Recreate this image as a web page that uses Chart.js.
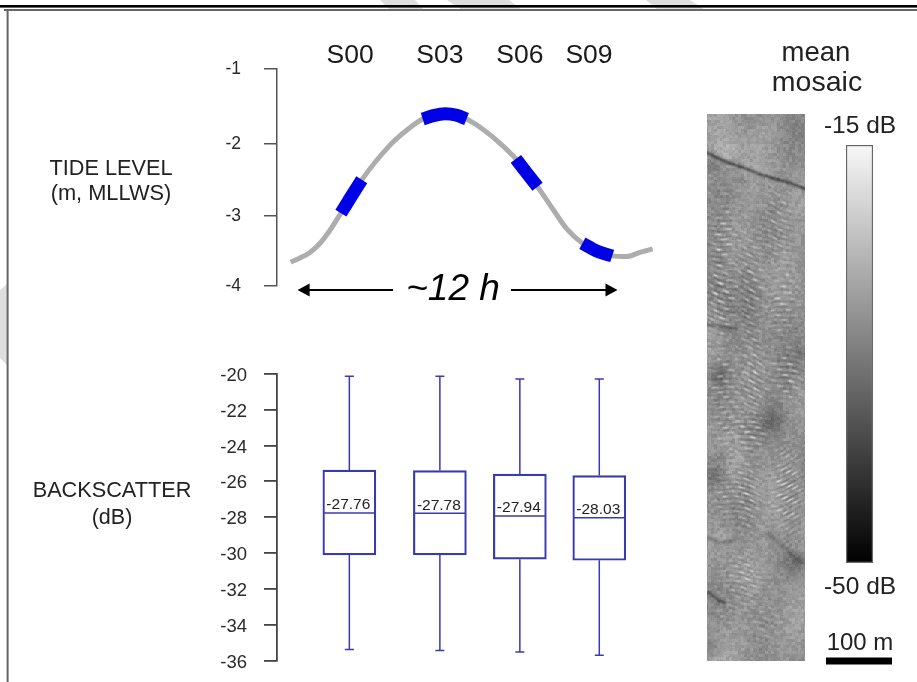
<!DOCTYPE html>
<html><head><meta charset="utf-8">
<style>
html,body{margin:0;padding:0;background:#fff;width:917px;height:682px;overflow:hidden}
canvas{position:absolute;left:0;top:0;display:block}
#tide,#back,#bar{filter:blur(0.45px)}
</style>
<script src="https://cdn.jsdelivr.net/npm/chart.js@4/dist/chart.umd.js"></script>
</head><body>
<canvas id="bg" width="917" height="682"></canvas>
<canvas id="tide" width="917" height="682"></canvas>
<canvas id="back" width="917" height="720"></canvas>
<canvas id="bar" width="917" height="682"></canvas>
<script>
// ---------- data ----------
const sessions = ['S00','S03','S06','S09'];
const sessionLabelHours = [1.9,5.3,8.33,10.95];
const tideTicks = [-1,-2,-3,-4];
const tideHours  = [-0.35,0,0.38,0.76,1.07,1.55,1.94,2.34,3.41,4.04,4.65,5.05,5.49,5.94,6.31,6.94,7.58,8.18,8.58,9.0,9.59,10.1,10.7,11.24,11.83,12.37,12.88,13.36];
const tideLevels = [-3.66,-3.60,-3.52,-3.39,-3.24,-2.96,-2.73,-2.50,-2.02,-1.82,-1.67,-1.625,-1.60,-1.62,-1.67,-1.81,-1.995,-2.21,-2.40,-2.595,-2.91,-3.18,-3.39,-3.50,-3.57,-3.58,-3.52,-3.47];
const sessionRanges = [[5,7],[10,14],[17,19],[22,24]];
const backTicks = [-20,-22,-24,-26,-28,-30,-32,-34,-36];
const boxHours = [1.87,5.30,8.33,11.34];
const boxHalfHours = 0.985;
const whiskerHigh = [-20.14,-20.14,-20.3,-20.3];
const boxTop      = [-25.38,-25.40,-25.60,-25.68];
const medians     = [-27.76,-27.78,-27.94,-28.03];
const boxBottom   = [-30.10,-30.10,-30.34,-30.40];
const whiskerLow  = [-35.37,-35.43,-35.52,-35.70];
const colorRange  = [-50,-15];

const FONT = '"Liberation Sans", Arial, sans-serif';
const BOX = '#3a3ab0';
const hourMin = -0.871, hourMax = 13.64;

// ---------- tide axis: tick spacing in the figure is slightly uneven ----------
const tideStops = [[-4,0],[-3,0.3226],[-2,0.6558],[-1,1]];
class TideScale extends Chart.LinearScale {
  getPixelForValue(v){
    if (v === null || v === undefined || isNaN(v)) return NaN;
    let f = 0;
    for (let i=0;i<tideStops.length-1;i++){
      const a=tideStops[i], b=tideStops[i+1];
      if (v<=b[0] || i===tideStops.length-2){ f=a[1]+(v-a[0])/(b[0]-a[0])*(b[1]-a[1]); break; }
    }
    return this.getPixelForDecimal(f);
  }
}
TideScale.id='tidescale';
TideScale.defaults=Chart.LinearScale.defaults;
Chart.register(TideScale);

// ---------- backdrop: frame, watermark, mosaic image ----------
const ripplePatches = [
 // cx, cy, rx, ry, amplitude, wavelength, slope
 [722,240,13,45,40,5.5,.22],[722,295,15,40,50,5.5,.25],[750,285,13,50,40,5.5,.30],[778,225,14,40,32,5.5,.25],[782,305,15,35,36,5.5,-.15],
 [724,385,15,36,36,5.2,.15],[752,378,14,36,42,5.2,.30],[787,372,13,26,48,5.2,.25],
 [750,432,15,22,48,5.2,.30],[725,428,13,20,34,5.2,.15],
 [745,497,14,32,48,5.2,.30],[787,490,14,40,50,5.2,-.35],[722,497,10,28,28,5.2,.15],
 [742,580,20,26,32,5.2,.10],[762,622,16,26,20,5.5,.05],[722,612,12,22,18,5.5,.1]];
const blotches = [
 // x, y, r, amplitude
 [727,150,13,26],[713,165,7,-30],[742,180,4,-16],[763,188,4,-14],[752,125,30,6],
 [718,374,10,-30],[773,420,13,-30],[720,457,8,-22],[716,475,10,-40],[725,535,11,20],
 [800,354,8,-22],[795,563,11,-32],[713,645,9,-16],[730,640,30,12],[780,640,30,8],[735,565,25,10]];
const scarps = [
 // width, amplitude, polyline
 [2.0,-65,[[707,152],[718,158],[730,163],[745,168],[763,175],[785,181],[804,188]]],
 [2.0,-34,[[707,324],[723,327],[735,329]]],
 [2.2,-30,[[707,537],[720,542],[733,540]]],
 [2.0,-42,[[708,592],[716,598],[724,603]]],
 [2.4,-22,[[767,533],[785,548],[803,563]]]];
function grain(a,b){const g=Math.sin(a*12.9898+b*78.233)*43758.5453;return g-Math.floor(g)-.5;}

function segDist(px,py,a,b){
  const dx=b[0]-a[0],dy=b[1]-a[1];
  let t=((px-a[0])*dx+(py-a[1])*dy)/(dx*dx+dy*dy); t=Math.max(0,Math.min(1,t));
  return Math.hypot(px-a[0]-t*dx,py-a[1]-t*dy);
}
(function(){
  const c=document.getElementById('bg').getContext('2d');
  c.fillStyle='#fff';c.fillRect(0,0,917,682);
  c.fillStyle='#dedede';
  [[[380,0],[415,0],[424,10],[390,10]],[[447,0],[509,0],[522,10],[462,10]],[[646,0],[690,0],[705,10],[658,10]],[[0,290],[8,283],[8,366],[0,358]]]
   .forEach(p=>{c.beginPath();p.forEach((q,i)=>i?c.lineTo(q[0],q[1]):c.moveTo(q[0],q[1]));c.closePath();c.fill();});
  c.fillStyle='#000';c.fillRect(0,5,917,2.6);
  c.fillStyle='#666';c.fillRect(4,9,913,2);c.fillRect(6.6,9,2,673);

  const x0=707,y0=114,w=98,h=547;
  const off=document.createElement('canvas');off.width=w;off.height=h;
  const oc=off.getContext('2d');const img=oc.createImageData(w,h);
  for(let j=0;j<h;j++)for(let i=0;i<w;i++){
    const x=x0+i,y=y0+j;
    let v=146;
    v+=6*Math.sin(x/9+y/31)+5*Math.sin(y/17-x/23)+5*Math.sin(x/31-y/47);
    v+=24*grain(Math.floor(x/3),Math.floor(y/3))+12*grain(x,y);
    for(const [cx,cy,rx,ry,amp,wl,sl] of ripplePatches){
      const e=((x-cx)/rx)**2+((y-cy)/ry)**2;
      if(e>3)continue;
      const wob=2.2*Math.sin(x/9+cy)+1.2*Math.sin(y/13);
      const crest=Math.sin(2*Math.PI*(y-sl*(x-cx)+wob)/wl);
      const row=Math.floor((y-sl*(x-cx)+wob)/wl);
      const brk=Math.max(0,Math.sin(x/2.6+row*4.1+cx));
      v+=amp*Math.exp(-e)*(crest>0?crest*brk*1.3:crest*.5);
    }
    for(const [bx,by,r,a] of blotches){
      const e=((x-bx)**2+(y-by)**2)/(r*r);
      if(e<6)v+=a*Math.exp(-e);
    }
    for(const [sw,a,pl] of scarps){
      let d=1e9;
      for(let k=0;k<pl.length-1;k++)d=Math.min(d,segDist(x,y,pl[k],pl[k+1]));
      if(d<8)v+=a*Math.exp(-(d*d)/(sw*sw));
    }
    const p=(j*w+i)*4,q=Math.max(0,Math.min(255,v));
    img.data[p]=img.data[p+1]=img.data[p+2]=q;img.data[p+3]=255;
  }
  oc.putImageData(img,0,0);
  c.drawImage(off,x0,y0);
  c.save();c.beginPath();c.rect(x0,y0,w,h);c.clip();
  c.filter='blur(0.6px)';c.drawImage(off,x0,y0);c.restore();
})();

// ---------- free text and annotation ----------
const freeTexts = [
 ['TIDE LEVEL',111,169,'21.7px'],['(m, MLLWS)',111,194,'21.8px'],
 ['BACKSCATTER',112,491,'21.7px'],['(dB)',112,518,'21.5px'],
 ['mean',816,53,'27.5px'],['mosaic',817,83,'28.5px'],
 ['-15 dB',860,126,'24.5px'],['-50 dB',860,587,'24.5px'],['100 m',860,643,'24px']];
const overlay = {
  id:'overlay',
  afterDatasetsDraw(ch){
    const c=ch.ctx,x=ch.scales.x,y=ch.scales.y;
    c.save();c.textAlign='center';c.textBaseline='middle';
    c.fillStyle='#222';
    freeTexts.forEach(t=>{c.font=t[3]+' '+FONT;c.fillText(t[0],t[1],t[2]);});
    c.font='26.5px '+FONT;c.fillStyle='#1a1a1a';
    sessions.forEach((s,i)=>c.fillText(s,x.getPixelForValue(sessionLabelHours[i]),56));
    // ~12 h span
    const ay=y.getPixelForValue(-4)+4,l=x.getPixelForValue(-0.09),r=x.getPixelForValue(12.03);
    c.fillStyle='#000';c.font='italic 37px '+FONT;c.fillText('~12 h',453,ay);
    c.fillRect(l+8,ay-1,393-l-8,2);c.fillRect(511,ay-1,r-8-511,2);
    c.beginPath();c.moveTo(l,ay);c.lineTo(l+12,ay-6.5);c.lineTo(l+12,ay+6.5);c.closePath();c.fill();
    c.beginPath();c.moveTo(r,ay);c.lineTo(r-12,ay-6.5);c.lineTo(r-12,ay+6.5);c.closePath();c.fill();
    // scale bar
    c.fillRect(826,657.5,66,7);
    c.restore();
  }
};
const medianText = {
  id:'medianText',
  afterDatasetsDraw(ch){
    const c=ch.ctx,x=ch.scales.x,y=ch.scales.y;
    c.save();c.font='15.5px '+FONT;c.fillStyle='#222';c.textAlign='center';c.textBaseline='middle';
    medians.forEach((m,i)=>c.fillText(m.toFixed(2),x.getPixelForValue(boxHours[i])-1,y.getPixelForValue(m)-8));
    c.restore();
  }
};
const common = {responsive:false,animation:false,devicePixelRatio:1,
  plugins:{legend:{display:false},tooltip:{enabled:false}}};

// ---------- tide chart ----------
const tidePts = tideHours.map((h,i)=>({x:h,y:tideLevels[i]}));
new Chart(document.getElementById('tide'),{
  type:'line',
  data:{datasets:[
    {label:'Tide level',data:tidePts,order:2,borderColor:'#adadad',borderWidth:5,pointRadius:0,cubicInterpolationMode:'monotone',clip:false},
    ...sessionRanges.map((r,i)=>({label:sessions[i],data:tidePts.slice(r[0],r[1]+1),order:1,borderColor:'#0000e6',borderWidth:13,borderCapStyle:'butt',pointRadius:0,cubicInterpolationMode:'monotone',clip:false}))
  ]},
  options:{...common,
    layout:{padding:{left:217,right:257,top:69,bottom:396}},
    scales:{
      x:{type:'linear',display:false,min:hourMin,max:hourMax},
      y:{type:'tidescale',position:'left',min:-4,max:-1,
         afterBuildTicks(a){a.ticks=tideTicks.map(v=>({value:v}));},
         afterFit(a){a.width=60;},
         border:{display:true,color:'#555',width:1.5},
         grid:{drawOnChartArea:false,drawTicks:true,tickLength:13,color:'#555',lineWidth:1.5},
         ticks:{padding:23,font:{family:FONT,size:17.5},color:'#2a2a2a',callback:v=>String(v)}}
    }},
  plugins:[overlay]
});

// ---------- box chart ----------
new Chart(document.getElementById('back'),{
  type:'bar',
  data:{datasets:[
    {type:'bar',label:'IQR',data:boxHours.map((h,i)=>({x:h,y:[boxBottom[i],boxTop[i]]})),
     backgroundColor:'rgba(0,0,0,0)',borderColor:BOX,borderWidth:1.5,borderSkipped:false,barThickness:53},
    ...boxHours.map((h,i)=>({type:'line',label:'Median '+sessions[i],data:[{x:h-boxHalfHours,y:medians[i]},{x:h+boxHalfHours,y:medians[i]}],
      borderColor:BOX,borderWidth:1.5,pointRadius:0})),
    ...boxHours.map((h,i)=>({type:'line',label:'Upper whisker '+sessions[i],data:[{x:h,y:whiskerHigh[i]},{x:h,y:boxTop[i]}],
      borderColor:BOX,borderWidth:1.5,pointStyle:'line',pointRadius:[4.5,0],pointBorderColor:BOX,pointBorderWidth:1.5})),
    ...boxHours.map((h,i)=>({type:'line',label:'Lower whisker '+sessions[i],data:[{x:h,y:boxBottom[i]},{x:h,y:whiskerLow[i]}],
      borderColor:BOX,borderWidth:1.5,pointStyle:'line',pointRadius:[0,4.5],pointBorderColor:BOX,pointBorderWidth:1.5}))
  ]},
  options:{...common,
    layout:{padding:{left:217,right:257,top:373.7,bottom:59.3}},
    scales:{
      x:{type:'linear',offset:false,display:false,min:hourMin,max:hourMax},
      y:{type:'linear',position:'left',min:-36,max:-20,
         afterBuildTicks(a){a.ticks=backTicks.map(v=>({value:v}));},
         afterFit(a){a.width=60;},
         border:{display:true,color:'#444',width:1.8},
         grid:{drawOnChartArea:false,drawTicks:true,tickLength:13,color:'#444',lineWidth:1.8},
         ticks:{padding:17,labelOffset:2,font:{family:FONT,size:18.5},color:'#2a2a2a',callback:v=>String(v)}}
    }},
  plugins:[medianText]
});

// ---------- colour bar ----------
new Chart(document.getElementById('bar'),{
  type:'bar',
  data:{labels:['mean mosaic'],datasets:[{label:'Backscatter (dB)',data:[colorRange],
    backgroundColor(ctx){
      const a=ctx.chart.chartArea; if(!a) return '#888';
      const g=ctx.chart.ctx.createLinearGradient(0,a.top,0,a.bottom);
      g.addColorStop(0,'#f7f7f7');g.addColorStop(1,'#000');return g;},
    borderColor:'#666',borderWidth:1.5,borderSkipped:false,barPercentage:1,categoryPercentage:1}]},
  options:{...common,
    layout:{padding:{left:846,right:44,top:145,bottom:119}},
    scales:{x:{display:false},y:{display:false,min:colorRange[0],max:colorRange[1]}}}
});
</script>
</body></html>
